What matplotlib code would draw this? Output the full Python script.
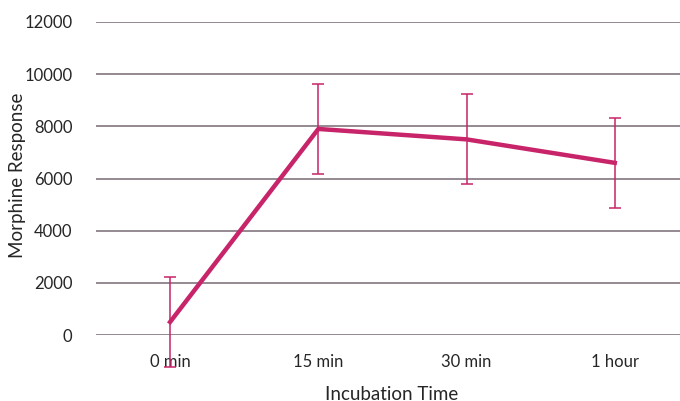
import matplotlib
matplotlib.use("Agg")
import matplotlib.pyplot as plt

categories = ["0 min", "15 min", "30 min", "1 hour"]
response = [500, 7900, 7500, 6600]
response_err = [1735, 1725, 1730, 1735]
y_ticks = [0, 2000, 4000, 6000, 8000, 10000, 12000]

plt.rcParams["font.family"] = ["Lato", "DejaVu Sans"]

W, H = 680, 401
fig = plt.figure(figsize=(W / 100, H / 100), dpi=100)
ax = fig.add_axes([96 / W, 1 - 335 / H, 1 - 96 / W, (335 - 22) / H])

line_color = "#c8246a"
grid_color = "#8e8089"
text_color = "#262626"

x = list(range(len(categories)))
eb = ax.errorbar(x, response, yerr=response_err, color=line_color, lw=3.2,
                 ecolor=line_color, elinewidth=1.1, capsize=4.5, capthick=1.1,
                 zorder=3)
for artist in eb.lines[1] + eb.lines[2]:
    artist.set_clip_on(False)
eb.lines[0].set_clip_on(False)

ax.set_ylim(0, 12000)
ax.set_yticks(y_ticks)
ax.set_xlim(-0.5, 3.44)
ax.set_xticks(x)
ax.set_xticklabels(categories)
ax.set_yticklabels([str(v) for v in y_ticks])

ax.grid(axis="y", color=grid_color, lw=1.3)
ax.set_axisbelow(True)
for s in ax.spines.values():
    s.set_visible(False)
ax.tick_params(axis="both", length=0, labelsize=12, colors=text_color)
ax.tick_params(axis="y", pad=17)
ax.tick_params(axis="x", pad=14)

fig.text(18 / W, 1 - 175 / H, "Morphine Response", rotation=90,
         ha="center", va="center", fontsize=13.5, color=text_color)
fig.text(392 / W, 1 - 394 / H, "Incubation Time",
         ha="center", va="center", fontsize=13.5, color=text_color)

fig.savefig("out.png", dpi=100)
